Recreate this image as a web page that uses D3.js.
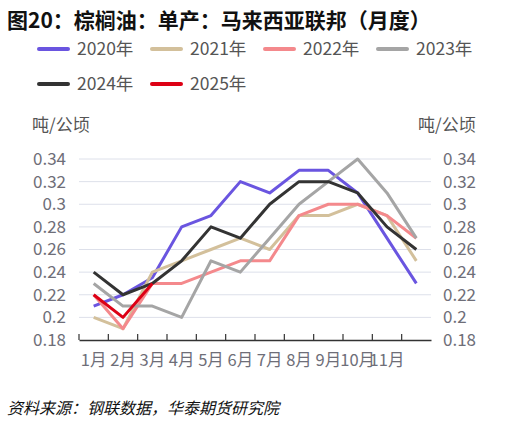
<!DOCTYPE html>
<html>
<head>
<meta charset="utf-8">
<script src="https://cdn.jsdelivr.net/npm/d3@7"></script>
<style>
  body { margin: 0; background: #fff; }
  text { font-family: "Noto Sans CJK SC", "Noto Sans", sans-serif; }
</style>
</head>
<body>
<script>
let width = 519;
let height = 426;

let months = ["1月", "2月", "3月", "4月", "5月", "6月", "7月", "8月", "9月", "10月", "11月", "12月"];
let shownMonths = months.slice(0, 11);   // the 12th label is dropped in the original
let yTicks = [0.18, 0.2, 0.22, 0.24, 0.26, 0.28, 0.3, 0.32, 0.34];

let years = ["2020年", "2021年", "2022年", "2023年", "2024年", "2025年"];
let colors = ["#6a55e0", "#d3c09b", "#f4898c", "#a5a5a5", "#333333", "#dd0015"];

let y2020 = [0.21, 0.22, 0.235, 0.28, 0.29, 0.32, 0.31, 0.33, 0.33, 0.31, 0.27, 0.23];
let y2021 = [0.20, 0.19, 0.24, 0.25, 0.26, 0.27, 0.26, 0.29, 0.29, 0.30, 0.29, 0.25];
let y2022 = [0.22, 0.19, 0.23, 0.23, 0.24, 0.25, 0.25, 0.29, 0.30, 0.30, 0.29, 0.27];
let y2023 = [0.23, 0.21, 0.21, 0.20, 0.25, 0.24, 0.27, 0.30, 0.32, 0.34, 0.31, 0.27];
let y2024 = [0.24, 0.22, 0.23, 0.25, 0.28, 0.27, 0.30, 0.32, 0.32, 0.31, 0.28, 0.26];
let y2025 = [0.22, 0.20, 0.23];
let series = [y2020, y2021, y2022, y2023, y2024, y2025];

let svg = d3.select("body").append("svg")
            .attr("width", width)
            .attr("height", height);

let plotLeft = 79, plotRight = 431, plotTop = 159, plotBottom = 340;

let x = d3.scaleBand().domain(months).range([plotLeft, plotRight]);
let y = d3.scaleLinear().domain([0.18, 0.34]).range([plotBottom, plotTop]);

// title
svg.append("text")
   .attr("x", 7).attr("y", 28)
   .attr("font-size", 21).attr("font-weight", "bold").attr("fill", "#111")
   .text("图20：棕榈油：单产：马来西亚联邦（月度）");

// legend
let legend = svg.append("g").selectAll("g")
  .data(years)
  .join("g")
  .attr("transform", (d, i) => "translate(" + (39 + (i % 4) * 113) + "," + (49 + Math.floor(i / 4) * 35) + ")");
legend.append("line")
  .attr("x1", 0).attr("x2", 29)
  .attr("stroke", (d, i) => colors[i])
  .attr("stroke-width", 4).attr("stroke-linecap", "round");
legend.append("text")
  .attr("x", 38).attr("dy", "0.35em")
  .attr("font-size", 17.5).attr("fill", "#555")
  .text(d => d);

// grid
svg.append("g").selectAll("line")
   .data(yTicks.slice(1))
   .join("line")
   .attr("x1", plotLeft).attr("x2", plotRight)
   .attr("y1", d => y(d)).attr("y2", d => y(d))
   .attr("stroke", "#dde0ea").attr("stroke-width", 1);

// y axes on both sides
let fmt = d => String(+d.toFixed(2));
let yLeft = svg.append("g")
   .attr("transform", "translate(" + plotLeft + ",0)")
   .call(d3.axisLeft(y).tickValues(yTicks).tickFormat(fmt).tickSize(0).tickPadding(13));
let yRight = svg.append("g")
   .attr("transform", "translate(" + plotRight + ",0)")
   .call(d3.axisRight(y).tickValues(yTicks).tickFormat(fmt).tickSize(0).tickPadding(12));
[yLeft, yRight].forEach(function(a) {
  a.select(".domain").remove();
  a.selectAll("text").attr("font-size", 17).attr("fill", "#6e6e78").attr("font-family", "\"Noto Sans CJK SC\", sans-serif");
});

// units
svg.append("text").attr("x", 32).attr("y", 131)
   .attr("font-size", 17).attr("fill", "#555").text("吨/公顷");
svg.append("text").attr("x", 418).attr("y", 131)
   .attr("font-size", 17).attr("fill", "#555").text("吨/公顷");

// x axis
let xAxis = svg.append("g")
   .attr("transform", "translate(0," + plotBottom + ")")
   .call(d3.axisBottom(x).tickSizeOuter(0).tickSize(0).tickPadding(14)
           .tickFormat(d => shownMonths.includes(d) ? d : ""));
xAxis.select(".domain").attr("stroke", "#333").attr("stroke-width", 1.5);
xAxis.selectAll("text").attr("font-size", 16.5).attr("fill", "#6e6e78").attr("font-family", "\"Noto Sans CJK SC\", sans-serif");
xAxis.selectAll(".tick").append("line")
   .attr("x1", -x.bandwidth() / 2).attr("x2", -x.bandwidth() / 2)
   .attr("y1", 0).attr("y2", -6)
   .attr("stroke", "#333").attr("stroke-width", 1.2);

// lines
let line = d3.line()
  .x((d, i) => x(months[i]) + x.bandwidth() / 2)
  .y(d => y(d));

svg.append("g").selectAll("path")
   .data(series)
   .join("path")
   .attr("d", line)
   .attr("fill", "none")
   .attr("stroke", (d, i) => colors[i])
   .attr("stroke-width", 3)
   .attr("stroke-linejoin", "round");

// source
svg.append("text")
   .attr("x", 7).attr("y", 414)
   .attr("font-size", 16).attr("font-style", "italic").attr("fill", "#111")
   .text("资料来源：钢联数据，华泰期货研究院");
</script>
</body>
</html>
